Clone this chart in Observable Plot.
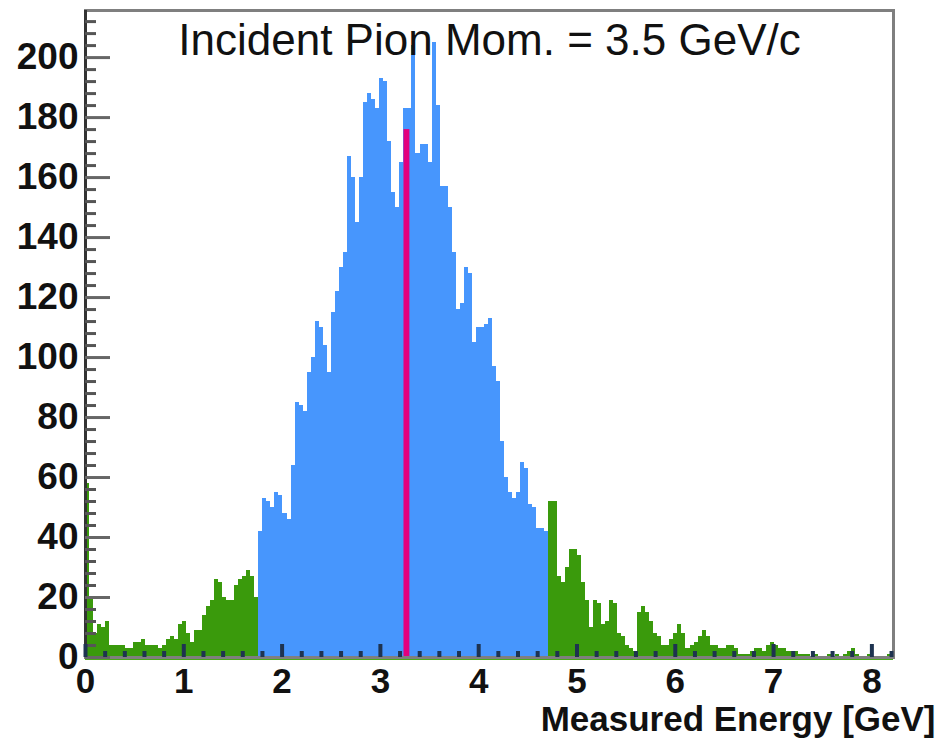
<!DOCTYPE html>
<html>
<head>
<meta charset="utf-8">
<script src="https://cdn.jsdelivr.net/npm/d3@7"></script>
<script src="https://cdn.jsdelivr.net/npm/@observablehq/plot@0.6"></script>
<style>
  html, body { margin: 0; padding: 0; background: #fff; }
  #chart svg { display: block; }
</style>
</head>
<body>
<div id="chart"></div>
<script>
// ---- data ----
const binWidth = 0.041;            // GeV per bin
const titleText = "Incident Pion Mom. = 3.5 GeV/c";
const xLabelText = "Measured Energy [GeV]";
const xTicks = [0, 1, 2, 3, 4, 5, 6, 7, 8];
const yTicks = [0, 20, 40, 60, 80, 100, 120, 140, 160, 180, 200];

// counts, bins 0..42 (green, low tail)
const lowTail = [58,20,8,11,10, 12,4,4,4,4, 3,3,5,5,6, 4,4,4,3,4, 6,7,6,11,12,
                 8,5,9,9,14, 17,19,26,25,20, 19,19,24,26,27, 29,27,20];
// counts, bins 43..114 (blue, core window)
const core = [42,53,52,50,55, 54,48,46,64,85, 84,82,95,100,112, 110,104,95,115,122,
              130,135,167,160,145, 160,185,188,186,183, 193,192,172,155,150,
              165,183,183,204,168, 171,171,165,205,184, 157,157,150,135,116,
              118,130,128,105,110, 110,111,113,97,92, 72,60,55,53,55,
              65,63,51,50,43, 43,42];
// counts, bins 115..199 (green, high tail)
const highTail = [52,52,27,25,30, 36,36,34,25,19, 10,19,18,11,12, 19,18,8,7,4,
                  3,2,15,17,15, 12,8,7,4,4, 6,8,11,8,3, 4,5,7,9,7,
                  4,4,3,3,4, 4,3,1,1,1, 2,3,3,2,4, 5,4,3,3,2,
                  2,2,1,1,1, 0,1,0,0,1, 0,1,0,1,2, 3,1,0,0,1, 0,0,0,0,1];
// highlighted bin (magenta)
const peakLo = [3.24];
const peakHi = [3.30];
const peakCount = [176];

// ---- build table ----
const bins = [];
[["low", lowTail], ["core", core], ["high", highTail]].forEach(([region, arr]) => {
  arr.forEach(c => {
    const i = bins.length;
    bins.push({x1: i * binWidth, x2: (i + 1) * binWidth, count: c, region});
  });
});
const peak = peakLo.map((lo, i) => ({x1: lo, x2: peakHi[i], count: peakCount[i]}));

// ---- layout ----
const W = 937, H = 739;
const mL = 85, mR = 44, mT = 10, mB = 82;
const xDomain = [0, 8.22];
const yDomain = [0, 215.7];
const gevPerPx = (xDomain[1] - xDomain[0]) / (W - mL - mR);
const cntPerPx = (yDomain[1] - yDomain[0]) / (H - mT - mB);

const yMajor = yTicks;
const yMinor = d3.range(0, 214, 4).filter(v => v % 20 !== 0);
const xMajor = xTicks;
const xMinor = d3.range(0, 8.21, 0.2).map(v => +v.toFixed(2)).filter(v => Math.abs(v - Math.round(v)) > 1e-6);

const colors = {low: "#3a9a0c", core: "#4796fd", high: "#3a9a0c"};
const font = "'Liberation Sans', Arial, Helvetica, sans-serif";

const chart = Plot.plot({
  width: W, height: H,
  marginLeft: mL, marginRight: mR, marginTop: mT, marginBottom: mB,
  x: {domain: xDomain, axis: null},
  y: {domain: yDomain, axis: null},
  style: {fontFamily: font, background: "#fff"},
  marks: [
    Plot.rectY(bins, {x1: "x1", x2: "x2", y: "count", fill: d => colors[d.region],
      inset: 0, shapeRendering: "crispEdges"}),
    Plot.rectY(peak, {x1: "x1", x2: "x2", y: "count", fill: "#e3007d", inset: 0}),
    // baseline drawn by histogram
    Plot.ruleY([0], {stroke: "#4aa81a", strokeWidth: 3, dy: 1}),
    // frame (top/right grey)
    Plot.frame({stroke: "#7f7f7f", strokeWidth: 3}),
    // left axis line
    Plot.ruleX([0], {stroke: "#333", strokeWidth: 3}),
    // y ticks (inward)
    Plot.ruleY(yMajor, {x1: 0, x2: 25 * gevPerPx, stroke: "#666", strokeWidth: 3}),
    Plot.ruleY(yMinor, {x1: 0, x2: 11 * gevPerPx, stroke: "#555", strokeWidth: 3}),
    // x ticks (inward from baseline)
    Plot.ruleX(xMajor, {y1: 0, y2: 13 * cntPerPx, stroke: "#1e3350", strokeWidth: 4}),
    Plot.ruleX(xMinor, {y1: 0, y2: 6 * cntPerPx, stroke: "#1e3350", strokeWidth: 4}),
    // tick labels
    Plot.text(yTicks, {y: d => d, frameAnchor: "left", textAnchor: "end", dx: -7,
      fontSize: 37, fontWeight: "bold", fill: "#111"}),
    Plot.text(xTicks, {x: d => d, frameAnchor: "bottom", lineAnchor: "top", dy: 11,
      fontSize: 35, fontWeight: "bold", fill: "#111"}),
    // title
    Plot.text([titleText], {frameAnchor: "top", lineAnchor: "bottom", dy: 44,
      fontSize: 44, fill: "#111"}),
    // x label
    Plot.text([xLabelText], {frameAnchor: "bottom-right", textAnchor: "end", lineAnchor: "bottom",
      dx: 42, dy: 73, fontSize: 35, fontWeight: "bold", fill: "#111"})
  ]
});
document.getElementById("chart").appendChild(chart);
</script>
</body>
</html>
